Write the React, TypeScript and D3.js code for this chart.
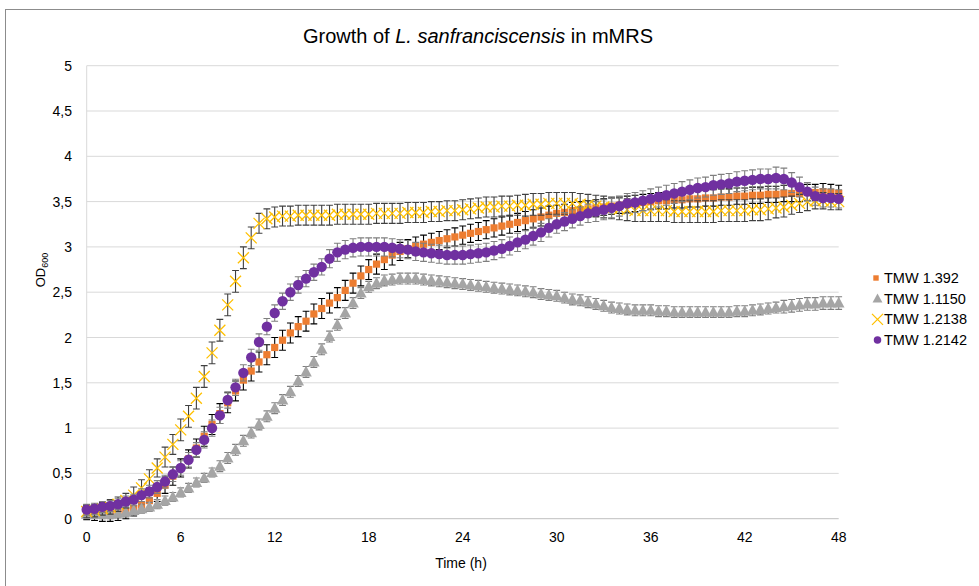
import React from "react";
import * as d3 from "d3";

const W = 979;
const H = 586;

const times: number[] = [
  0, 0.5, 1, 1.5, 2, 2.5, 3, 3.5, 4, 4.5, 5, 5.5, 6, 6.5, 7, 7.5, 8, 8.5, 9, 9.5,
  10, 10.5, 11, 11.5, 12, 12.5, 13, 13.5, 14, 14.5, 15, 15.5, 16, 16.5, 17, 17.5, 18, 18.5, 19, 19.5,
  20, 20.5, 21, 21.5, 22, 22.5, 23, 23.5, 24, 24.5, 25, 25.5, 26, 26.5, 27, 27.5, 28, 28.5, 29, 29.5,
  30, 30.5, 31, 31.5, 32, 32.5, 33, 33.5, 34, 34.5, 35, 35.5, 36, 36.5, 37, 37.5, 38, 38.5, 39, 39.5,
  40, 40.5, 41, 41.5, 42, 42.5, 43, 43.5, 44, 44.5, 45, 45.5, 46, 46.5, 47, 47.5, 48,
];

const tmw1392: number[] = [
  0.07, 0.06, 0.05, 0.05, 0.06, 0.08, 0.11, 0.15, 0.2, 0.28,
  0.37, 0.47, 0.56, 0.66, 0.78, 0.91, 1.04, 1.16, 1.28, 1.41,
  1.53, 1.63, 1.73, 1.81, 1.89, 1.97, 2.05, 2.12, 2.18, 2.26,
  2.32, 2.38, 2.44, 2.52, 2.6, 2.68, 2.75, 2.81, 2.86, 2.91,
  2.95, 2.98, 3.01, 3.03, 3.05, 3.07, 3.09, 3.11, 3.13, 3.15,
  3.17, 3.19, 3.21, 3.23, 3.25, 3.27, 3.29, 3.31, 3.33, 3.35,
  3.37, 3.38, 3.4, 3.41, 3.42, 3.43, 3.44, 3.45, 3.46, 3.47,
  3.48, 3.49, 3.5, 3.51, 3.51, 3.52, 3.52, 3.53, 3.53, 3.54,
  3.54, 3.55, 3.55, 3.56, 3.56, 3.57, 3.57, 3.58, 3.58, 3.59,
  3.59, 3.59, 3.6, 3.6, 3.61, 3.6, 3.59,
];
const tmw1392Err: number[] = [
  0.08, 0.08, 0.08, 0.08, 0.08, 0.08, 0.08, 0.08, 0.09, 0.09,
  0.09, 0.1, 0.1, 0.1, 0.1, 0.11, 0.11, 0.11, 0.11, 0.11,
  0.11, 0.11, 0.11, 0.11, 0.11, 0.11, 0.11, 0.11, 0.11, 0.11,
  0.11, 0.11, 0.11, 0.11, 0.11, 0.11, 0.11, 0.11, 0.11, 0.11,
  0.1, 0.1, 0.1, 0.1, 0.1, 0.1, 0.1, 0.1, 0.1, 0.1,
  0.1, 0.1, 0.1, 0.1, 0.1, 0.1, 0.1, 0.1, 0.1, 0.1,
  0.09, 0.09, 0.09, 0.09, 0.09, 0.09, 0.09, 0.09, 0.09, 0.09,
  0.09, 0.09, 0.09, 0.09, 0.09, 0.09, 0.09, 0.09, 0.09, 0.09,
  0.09, 0.09, 0.09, 0.09, 0.09, 0.09, 0.09, 0.09, 0.09, 0.09,
  0.09, 0.09, 0.09, 0.09, 0.09, 0.09, 0.09,
];

const tmw1150: number[] = [
  0.05, 0.05, 0.05, 0.05, 0.06, 0.07, 0.09, 0.11, 0.13, 0.16,
  0.2, 0.24, 0.29, 0.34, 0.4, 0.45, 0.51, 0.58, 0.67, 0.76,
  0.86, 0.95, 1.04, 1.13, 1.22, 1.31, 1.4, 1.52, 1.62, 1.73,
  1.87, 2.01, 2.14, 2.27, 2.38, 2.49, 2.56, 2.6, 2.63, 2.64,
  2.65, 2.65, 2.65, 2.64, 2.63, 2.62, 2.61, 2.6, 2.59, 2.58,
  2.57, 2.56, 2.55, 2.54, 2.53, 2.52, 2.51, 2.5, 2.48, 2.47,
  2.46, 2.44, 2.42, 2.41, 2.39, 2.37, 2.35, 2.33, 2.32, 2.31,
  2.3, 2.3, 2.3, 2.29, 2.29, 2.28, 2.28, 2.28, 2.28, 2.28,
  2.28, 2.28, 2.28, 2.29, 2.29, 2.3, 2.31, 2.32, 2.33, 2.34,
  2.35, 2.36, 2.37, 2.37, 2.38, 2.38, 2.38,
];
const tmw1150Err: number[] = [
  0.05, 0.05, 0.05, 0.05, 0.05, 0.05, 0.05, 0.05, 0.05, 0.05,
  0.05, 0.05, 0.05, 0.05, 0.05, 0.05, 0.05, 0.06, 0.06, 0.06,
  0.06, 0.06, 0.06, 0.06, 0.06, 0.06, 0.06, 0.06, 0.06, 0.06,
  0.06, 0.06, 0.06, 0.06, 0.06, 0.06, 0.06, 0.06, 0.06, 0.06,
  0.06, 0.06, 0.06, 0.06, 0.06, 0.06, 0.06, 0.06, 0.06, 0.06,
  0.06, 0.06, 0.06, 0.06, 0.06, 0.06, 0.06, 0.06, 0.06, 0.06,
  0.06, 0.06, 0.06, 0.06, 0.06, 0.06, 0.06, 0.06, 0.06, 0.06,
  0.06, 0.06, 0.06, 0.06, 0.06, 0.06, 0.06, 0.06, 0.06, 0.06,
  0.06, 0.06, 0.06, 0.06, 0.06, 0.06, 0.06, 0.06, 0.06, 0.07,
  0.07, 0.07, 0.07, 0.07, 0.07, 0.07, 0.07,
];

const tmw2138: number[] = [
  0.08, 0.09, 0.11, 0.13, 0.16, 0.2, 0.26, 0.34, 0.44, 0.56,
  0.68, 0.82, 0.98, 1.13, 1.33, 1.57, 1.83, 2.08, 2.36, 2.62,
  2.88, 3.1, 3.26, 3.31, 3.33, 3.34, 3.34, 3.35, 3.35, 3.35,
  3.35, 3.35, 3.36, 3.36, 3.36, 3.36, 3.36, 3.37, 3.37, 3.37,
  3.37, 3.38, 3.38, 3.38, 3.39, 3.39, 3.4, 3.4, 3.41, 3.42,
  3.43, 3.44, 3.44, 3.45, 3.45, 3.46, 3.46, 3.47, 3.47, 3.48,
  3.48, 3.48, 3.48, 3.47, 3.46, 3.45, 3.44, 3.43, 3.42, 3.41,
  3.4, 3.4, 3.4, 3.4, 3.4, 3.39, 3.39, 3.39, 3.39, 3.39,
  3.39, 3.4, 3.4, 3.4, 3.4, 3.41, 3.41, 3.42, 3.43, 3.44,
  3.46, 3.48, 3.5, 3.51, 3.51, 3.5, 3.5,
];
const tmw2138Err: number[] = [
  0.07, 0.07, 0.07, 0.08, 0.08, 0.08, 0.09, 0.09, 0.1, 0.1,
  0.11, 0.11, 0.12, 0.12, 0.12, 0.12, 0.12, 0.12, 0.12, 0.12,
  0.12, 0.12, 0.11, 0.11, 0.11, 0.11, 0.11, 0.11, 0.11, 0.11,
  0.11, 0.11, 0.11, 0.11, 0.11, 0.11, 0.11, 0.11, 0.11, 0.11,
  0.11, 0.11, 0.11, 0.11, 0.11, 0.11, 0.11, 0.11, 0.11, 0.11,
  0.11, 0.11, 0.11, 0.11, 0.11, 0.11, 0.12, 0.12, 0.12, 0.12,
  0.12, 0.12, 0.12, 0.12, 0.12, 0.12, 0.12, 0.12, 0.12, 0.12,
  0.12, 0.12, 0.12, 0.12, 0.12, 0.12, 0.12, 0.12, 0.12, 0.12,
  0.12, 0.12, 0.12, 0.12, 0.12, 0.12, 0.12, 0.12, 0.11, 0.11,
  0.1, 0.1, 0.1, 0.09, 0.09, 0.09, 0.09,
];

const tmw2142: number[] = [
  0.1, 0.11, 0.13, 0.14, 0.16, 0.19, 0.21, 0.26, 0.3, 0.35,
  0.41, 0.49, 0.56, 0.65, 0.76, 0.87, 1.0, 1.14, 1.31, 1.45,
  1.61, 1.78, 1.95, 2.12, 2.27, 2.4, 2.5, 2.58, 2.65, 2.72,
  2.78, 2.87, 2.94, 2.97, 2.99, 3.0, 3.0, 3.0, 3.0, 2.99,
  2.98, 2.97, 2.95, 2.94, 2.93, 2.92, 2.91, 2.91, 2.91, 2.92,
  2.93, 2.94, 2.96, 2.98, 3.01, 3.05, 3.08, 3.12, 3.16, 3.21,
  3.25, 3.28, 3.31, 3.34, 3.37, 3.39, 3.41, 3.43, 3.45, 3.48,
  3.49, 3.51, 3.53, 3.55, 3.57, 3.59, 3.61, 3.63, 3.65, 3.66,
  3.68, 3.69, 3.7, 3.72, 3.73, 3.74, 3.75, 3.75, 3.76, 3.75,
  3.71, 3.66, 3.61, 3.56, 3.54, 3.54, 3.53,
];
const tmw2142Err: number[] = [
  0.06, 0.06, 0.06, 0.06, 0.06, 0.06, 0.06, 0.07, 0.07, 0.07,
  0.07, 0.08, 0.08, 0.08, 0.08, 0.09, 0.09, 0.09, 0.09, 0.09,
  0.09, 0.09, 0.09, 0.09, 0.09, 0.09, 0.09, 0.09, 0.09, 0.09,
  0.09, 0.1, 0.1, 0.1, 0.1, 0.1, 0.1, 0.1, 0.1, 0.1,
  0.1, 0.1, 0.1, 0.1, 0.1, 0.1, 0.1, 0.1, 0.1, 0.1,
  0.1, 0.1, 0.1, 0.1, 0.1, 0.1, 0.1, 0.1, 0.1, 0.1,
  0.1, 0.1, 0.1, 0.1, 0.1, 0.11, 0.11, 0.11, 0.11, 0.11,
  0.11, 0.11, 0.11, 0.11, 0.11, 0.11, 0.11, 0.11, 0.11, 0.11,
  0.11, 0.11, 0.11, 0.11, 0.11, 0.11, 0.11, 0.11, 0.12, 0.12,
  0.11, 0.11, 0.1, 0.1, 0.1, 0.1, 0.1,
];

const seriesNames: string[] = ["TMW 1.392", "TMW 1.1150", "TMW 1.2138", "TMW 1.2142"];
const xTicks: number[] = [0, 6, 12, 18, 24, 30, 36, 42, 48];
const yTicks: number[] = [0, 0.5, 1, 1.5, 2, 2.5, 3, 3.5, 4, 4.5, 5];

type Kind = "square" | "triangle" | "cross" | "circle";
const series: { name: string; values: number[]; err: number[]; color: string; barColor: string; kind: Kind }[] = [
  { name: seriesNames[0], values: tmw1392, err: tmw1392Err, color: "#ed7d31", barColor: "#000000", kind: "square" },
  { name: seriesNames[1], values: tmw1150, err: tmw1150Err, color: "#a5a5a5", barColor: "#7f7f7f", kind: "triangle" },
  { name: seriesNames[2], values: tmw2138, err: tmw2138Err, color: "#ffc000", barColor: "#404040", kind: "cross" },
  { name: seriesNames[3], values: tmw2142, err: tmw2142Err, color: "#7030a0", barColor: "#7f7f7f", kind: "circle" },
];

const FONT = "'Liberation Sans', Arial, sans-serif";

function Marker({ kind, x, y, color, s = 1 }: { kind: Kind; x: number; y: number; color: string; s?: number }) {
  if (kind === "square") {
    const h = 3.6 * s;
    return <rect x={x - h} y={y - h} width={2 * h} height={2 * h} fill={color} />;
  }
  if (kind === "triangle")
    return <path d={`M${x},${y - 6.2 * s} L${x + 5.8 * s},${y + 4.5 * s} L${x - 5.8 * s},${y + 4.5 * s} Z`} fill={color} />;
  if (kind === "cross") {
    const h = 5.5 * s;
    return (
      <path
        d={`M${x - h},${y - h} L${x + h},${y + h} M${x - h},${y + h} L${x + h},${y - h}`}
        stroke={color}
        strokeWidth={1.3}
        fill="none"
      />
    );
  }
  return <circle cx={x} cy={y} r={5.2 * s} fill={color} />;
}

export default function App() {
  const left = 86.7;
  const right = 838.7;
  const top = 65.7;
  const bottom = 518.7;
  const x = d3.scaleLinear().domain([0, 48]).range([left, right]);
  const y = d3.scaleLinear().domain([0, 5]).range([bottom, top]);
  const cap = 3.4;

  const legendScale: Record<Kind, number> = { square: 0.75, triangle: 0.85, cross: 1, circle: 0.72 };

  return (
    <svg width={W} height={H} style={{ display: "block", position: "absolute", left: 0, top: 0 }}>
      <rect x={0} y={0} width={W} height={H} fill="#ffffff" />
      <rect x={5.5} y={9.5} width={1000} height={700} fill="none" stroke="#8c8c8c" strokeWidth={1} />
      <text x={478} y={43} textAnchor="middle" fontFamily={FONT} fontSize={20} fill="#000">
        Growth of <tspan fontStyle="italic">L. sanfranciscensis</tspan> in mMRS
      </text>
      {yTicks.map((t) => (
        <g key={t}>
          <line x1={left} x2={right} y1={y(t)} y2={y(t)} stroke={t === 0 ? "#bfbfbf" : "#d9d9d9"} strokeWidth={1} />
          <text x={72} y={y(t) + 5} textAnchor="end" fontFamily={FONT} fontSize={14} fill="#000">
            {String(t).replace(".", ",")}
          </text>
        </g>
      ))}
      <line x1={left} x2={left} y1={top} y2={bottom} stroke="#d9d9d9" strokeWidth={1} />
      {xTicks.map((t) => (
        <text key={t} x={x(t)} y={542} textAnchor="middle" fontFamily={FONT} fontSize={14} fill="#000">
          {t}
        </text>
      ))}
      <text x={461} y={568} textAnchor="middle" fontFamily={FONT} fontSize={14} fill="#000">
        Time (h)
      </text>
      <text transform="translate(45,270) rotate(-90)" textAnchor="middle" fontFamily={FONT} fontSize={13} fill="#000">
        OD<tspan fontSize={9} dy={3}>600</tspan>
      </text>
      {series.map((s) => (
        <g key={s.name}>
          {s.values.map((v, i) => {
            const cx = x(times[i]);
            const y1 = y(v + s.err[i]);
            const y2 = y(v - s.err[i]);
            return (
              <path
                key={"e" + i}
                d={`M${cx},${y1} L${cx},${y2} M${cx - cap},${y1} L${cx + cap},${y1} M${cx - cap},${y2} L${cx + cap},${y2}`}
                stroke={s.barColor}
                strokeWidth={1.1}
                fill="none"
              />
            );
          })}
          {s.values.map((v, i) => (
            <Marker key={"m" + i} kind={s.kind} x={x(times[i])} y={y(v)} color={s.color} />
          ))}
        </g>
      ))}
      {series.map((s, i) => {
        const ly = 278 + i * 20.7;
        return (
          <g key={"l" + s.name}>
            <Marker kind={s.kind} x={s.kind === "square" ? 876 : 877.5} y={ly} color={s.color} s={legendScale[s.kind]} />
            <text x={884} y={ly + 5} fontFamily={FONT} fontSize={14.5} fill="#000">
              {s.name}
            </text>
          </g>
        );
      })}
    </svg>
  );
}
